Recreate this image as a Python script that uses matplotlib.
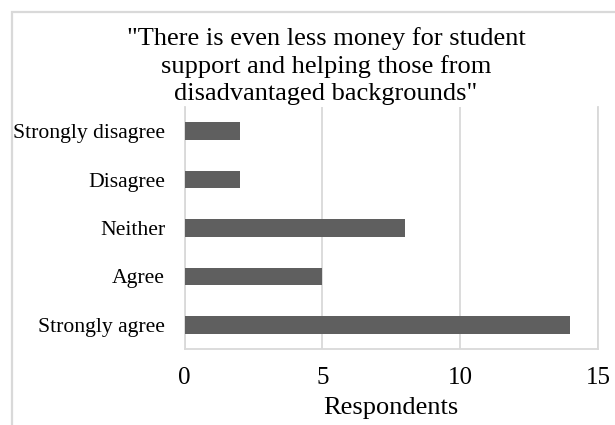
import matplotlib
matplotlib.use("Agg")
import matplotlib.pyplot as plt
from matplotlib.patches import Rectangle

# Survey responses
categories = ["Strongly agree", "Agree", "Neither", "Disagree", "Strongly disagree"]
respondents = [14, 5, 8, 2, 2]
x_ticks = [0, 5, 10, 15]

title = ('"There is even less money for student\n'
         'support and helping those from\n'
         'disadvantaged backgrounds"')

plt.rcParams["font.family"] = ["Liberation Serif", "DejaVu Serif"]

fig = plt.figure(figsize=(6.15, 4.25), dpi=100)
ax = fig.add_axes([184.5 / 615, 1 - 349 / 425, (598 - 184.5) / 615, (349 - 107) / 425])

grid_col = "#d9d9d9"
bar_col = "#5f5f5f"

# Chart area frame
fig.patches.append(Rectangle((11.5 / 615, -0.1), 2.0, 1 - 11.5 / 425 + 0.1,
                             transform=fig.transFigure, fill=False,
                             edgecolor=grid_col, linewidth=1.6))

ypos = list(range(len(categories)))
ax.barh(ypos, respondents, height=0.36, color=bar_col, zorder=3)
ax.set_yticks(ypos)
ax.set_yticklabels(categories, fontsize=15.6)
ax.set_ylim(-0.5, len(categories) - 0.5)

ax.set_xlim(x_ticks[0], x_ticks[-1])
ax.set_xticks(x_ticks)
ax.set_xticklabels([str(t) for t in x_ticks], fontsize=18)
ax.xaxis.grid(True, color=grid_col, linewidth=1.3, zorder=0)
ax.tick_params(axis="both", length=0)
ax.tick_params(axis="x", pad=13)
ax.tick_params(axis="y", pad=14)

ax.spines["top"].set_visible(False)
for side in ["left", "bottom", "right"]:
    ax.spines[side].set_color(grid_col)
    ax.spines[side].set_linewidth(1.3)

ax.set_xlabel("Respondents", fontsize=19, labelpad=6)

fig.text(326 / 615, 1 - 66 / 425, title, ha="center", va="center",
         fontsize=19, linespacing=1.28)

fig.savefig("out.png", dpi=100)
